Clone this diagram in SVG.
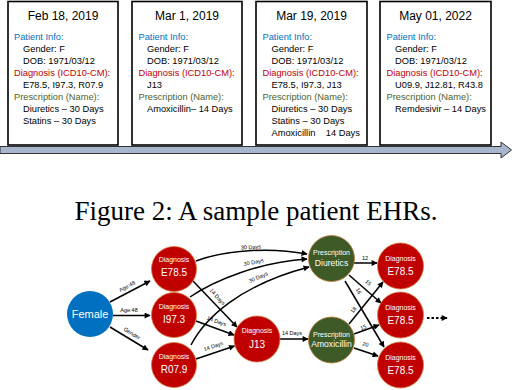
<svg xmlns="http://www.w3.org/2000/svg" width="512" height="390" viewBox="0 0 512 390">
<style>
.box{fill:#fff;stroke:#000;stroke-width:1.6}
.t{font-family:"Liberation Sans",Arial,sans-serif}
.title{font-size:12px;fill:#000;text-anchor:middle}
.b{font-size:9.3px;fill:#000}
.pi{fill:#0070c0}
.dg{fill:#c00000}
.rx{fill:#4f6228}
.cap{font-family:"Liberation Serif","Times New Roman",serif;font-size:27px;fill:#000;text-anchor:middle}
.red{fill:#c00000;stroke:#d07a3a;stroke-width:0.8}
.grn{fill:#3e5a26;stroke:#c07a3a;stroke-width:0.8}
.blu{fill:#0070c0}
.sm{font-size:7px;fill:#fff;text-anchor:middle}
.big{font-size:10px;fill:#fff;text-anchor:middle}
.rxn{font-size:8.6px;fill:#fff;text-anchor:middle}
.e{fill:none;stroke:#000;stroke-width:1.5}
.lb{font-size:5.5px;fill:#000;text-anchor:middle}
</style>
<defs>
<marker id="ah" viewBox="0 0 10 10" refX="9" refY="5" markerWidth="7" markerHeight="6" markerUnits="userSpaceOnUse" orient="auto">
<path d="M0,0 L10,5 L0,10 z" fill="#000"/>
</marker>
</defs>

<g id="timeline">
<polygon points="0,146.5 501,146.5 501,142 511.5,150 501,158 501,153.5 0,153.5" fill="#a7b6cc" stroke="#333" stroke-width="1"/>
</g>

<g id="record1" class="t">
<rect class="box" x="8" y="1.5" width="110" height="143.5"/>
<text class="title" x="63" y="20">Feb 18, 2019</text>
<text class="b pi" x="14" y="40">Patient Info:</text>
<text class="b" x="23" y="52">Gender: F</text>
<text class="b" x="23" y="64">DOB: 1971/03/12</text>
<text class="b dg" x="14" y="76">Diagnosis (ICD10-CM):</text>
<text class="b" x="23" y="88">E78.5, I97.3, R07.9</text>
<text class="b rx" x="14" y="100">Prescription (Name):</text>
<text class="b" x="23" y="112">Diuretics – 30 Days</text>
<text class="b" x="23" y="124">Statins – 30 Days</text>
</g>

<g id="record2" class="t">
<rect class="box" x="132" y="1.5" width="110" height="143.5"/>
<text class="title" x="187" y="20">Mar 1, 2019</text>
<text class="b pi" x="138.5" y="40">Patient Info:</text>
<text class="b" x="147" y="52">Gender: F</text>
<text class="b" x="147" y="64">DOB: 1971/03/12</text>
<text class="b dg" x="138.5" y="76">Diagnosis (ICD10-CM):</text>
<text class="b" x="147" y="88">J13</text>
<text class="b rx" x="138.5" y="100">Prescription (Name):</text>
<text class="b" x="147" y="112">Amoxicillin– 14 Days</text>
</g>

<g id="record3" class="t">
<rect class="box" x="256" y="1.5" width="111" height="143.5"/>
<text class="title" x="311.5" y="20">Mar 19, 2019</text>
<text class="b pi" x="262.5" y="40">Patient Info:</text>
<text class="b" x="271.5" y="52">Gender: F</text>
<text class="b" x="271.5" y="64">DOB: 1971/03/12</text>
<text class="b dg" x="262.5" y="76">Diagnosis (ICD10-CM):</text>
<text class="b" x="271.5" y="88">E78.5, I97.3, J13</text>
<text class="b rx" x="262.5" y="100">Prescription (Name):</text>
<text class="b" x="271.5" y="112">Diuretics – 30 Days</text>
<text class="b" x="271.5" y="124">Statins – 30 Days</text>
<text class="b" x="271.5" y="136" xml:space="preserve">Amoxicillin    14 Days</text>
</g>

<g id="record4" class="t">
<rect class="box" x="380" y="1.5" width="111" height="143.5"/>
<text class="title" x="435.5" y="20">May 01, 2022</text>
<text class="b pi" x="386.5" y="40">Patient Info:</text>
<text class="b" x="395" y="52">Gender: F</text>
<text class="b" x="395" y="64">DOB: 1971/03/12</text>
<text class="b dg" x="386.5" y="76">Diagnosis (ICD10-CM):</text>
<text class="b" x="395" y="88">U09.9, J12.81, R43.8</text>
<text class="b rx" x="386.5" y="100">Prescription (Name):</text>
<text class="b" x="395" y="112">Remdesivir – 14 Days</text>
</g>

<text class="cap" x="256" y="220">Figure 2: A sample patient EHRs.</text>

<g id="connectors" class="t">
<line class="e" x1="110" y1="302" x2="150" y2="281" marker-end="url(#ah)"/>
<text class="lb" transform="translate(128,288) rotate(-28)">Age:48</text>
<line class="e" x1="113" y1="315.5" x2="150" y2="315.5" marker-end="url(#ah)"/>
<text class="lb" x="129" y="312">Age:48</text>
<line class="e" x1="110" y1="327" x2="148" y2="350" marker-end="url(#ah)"/>
<text class="lb" transform="translate(131,335) rotate(31)">Gender</text>

<path class="e" d="M196,261 C225,250 270,247 307,254" marker-end="url(#ah)"/>
<text class="lb" transform="translate(251,249) rotate(-3)">30 Days</text>
<path class="e" d="M190,297 C215,280 260,262 307,259" marker-end="url(#ah)"/>
<text class="lb" transform="translate(254,264) rotate(-11)">30 Days</text>
<path class="e" d="M191,345 C205,318 240,285 309,267" marker-end="url(#ah)"/>
<text class="lb" transform="translate(259,279) rotate(-24)">30 Days</text>

<line class="e" x1="193" y1="281" x2="237" y2="327" marker-end="url(#ah)"/>
<text class="lb" transform="translate(216,298) rotate(48)">14 Days</text>
<line class="e" x1="196" y1="321" x2="234" y2="335" marker-end="url(#ah)"/>
<text class="lb" transform="translate(216,323) rotate(20)">14 Days</text>
<line class="e" x1="196" y1="359" x2="234.5" y2="346" marker-end="url(#ah)"/>
<text class="lb" transform="translate(214,348) rotate(-19)">14 Days</text>

<line class="e" x1="280" y1="339" x2="308" y2="339" marker-end="url(#ah)"/>
<text class="lb" x="292" y="335">14 Days</text>

<line class="e" x1="354" y1="263" x2="377" y2="263" marker-end="url(#ah)"/>
<text class="lb" x="365" y="259.5">12</text>
<line class="e" x1="349" y1="275" x2="381" y2="303" marker-end="url(#ah)"/>
<text class="lb" transform="translate(367,284) rotate(41)">15</text>
<line class="e" x1="345" y1="281" x2="384" y2="347" marker-end="url(#ah)"/>
<text class="lb" transform="translate(357,292) rotate(60)">16</text>
<line class="e" x1="349" y1="324" x2="383" y2="282" marker-end="url(#ah)"/>
<text class="lb" transform="translate(355,311) rotate(-52)">18</text>
<line class="e" x1="354" y1="334" x2="379" y2="325" marker-end="url(#ah)"/>
<text class="lb" transform="translate(364,329) rotate(-22)">15</text>
<line class="e" x1="354" y1="348" x2="378" y2="356" marker-end="url(#ah)"/>
<text class="lb" transform="translate(365,346) rotate(16)">20</text>

<line x1="427" y1="318" x2="447" y2="318" stroke="#000" stroke-width="2" stroke-dasharray="2.5,2" marker-end="url(#ah)"/>
</g>

<g id="female" class="t">
<circle class="blu" cx="90" cy="314" r="23"/>
<text x="90" y="318" font-size="11" fill="#fff" text-anchor="middle">Female</text>
</g>
<g id="dx-e785-a" class="t">
<circle class="red" cx="174" cy="269" r="22.5"/>
<text class="sm" x="174" y="262">Diagnosis</text>
<text class="big" x="174" y="275.5">E78.5</text>
</g>
<g id="dx-i973" class="t">
<circle class="red" cx="174" cy="315" r="22.5"/>
<text class="sm" x="174" y="309">Diagnosis</text>
<text class="big" x="174" y="322.5">I97.3</text>
</g>
<g id="dx-r079" class="t">
<circle class="red" cx="174" cy="365" r="22.5"/>
<text class="sm" x="174" y="359">Diagnosis</text>
<text class="big" x="174" y="372.5">R07.9</text>
</g>
<g id="dx-j13" class="t">
<circle class="red" cx="257" cy="339" r="23"/>
<text class="sm" x="257" y="333">Diagnosis</text>
<text class="big" x="257" y="347.5">J13</text>
</g>
<g id="rx-diuretics" class="t">
<circle class="grn" cx="331.5" cy="258.5" r="23"/>
<text class="sm" x="331.5" y="255">Prescription</text>
<text class="rxn" x="331.5" y="266">Diuretics</text>
</g>
<g id="rx-amoxicillin" class="t">
<circle class="grn" cx="331.5" cy="340" r="23"/>
<text class="sm" x="331.5" y="336.5">Prescription</text>
<text class="rxn" x="331.5" y="347">Amoxicillin</text>
</g>
<g id="dx-e785-b" class="t">
<circle class="red" cx="400.5" cy="266" r="23"/>
<text class="sm" x="400.5" y="261">Diagnosis</text>
<text class="big" x="400.5" y="274.5">E78.5</text>
</g>
<g id="dx-e785-c" class="t">
<circle class="red" cx="400.5" cy="315" r="23"/>
<text class="sm" x="400.5" y="310">Diagnosis</text>
<text class="big" x="400.5" y="323.5">E78.5</text>
</g>
<g id="dx-e785-d" class="t">
<circle class="red" cx="400.5" cy="365" r="23"/>
<text class="sm" x="400.5" y="360">Diagnosis</text>
<text class="big" x="400.5" y="373.5">E78.5</text>
</g>
</svg>
